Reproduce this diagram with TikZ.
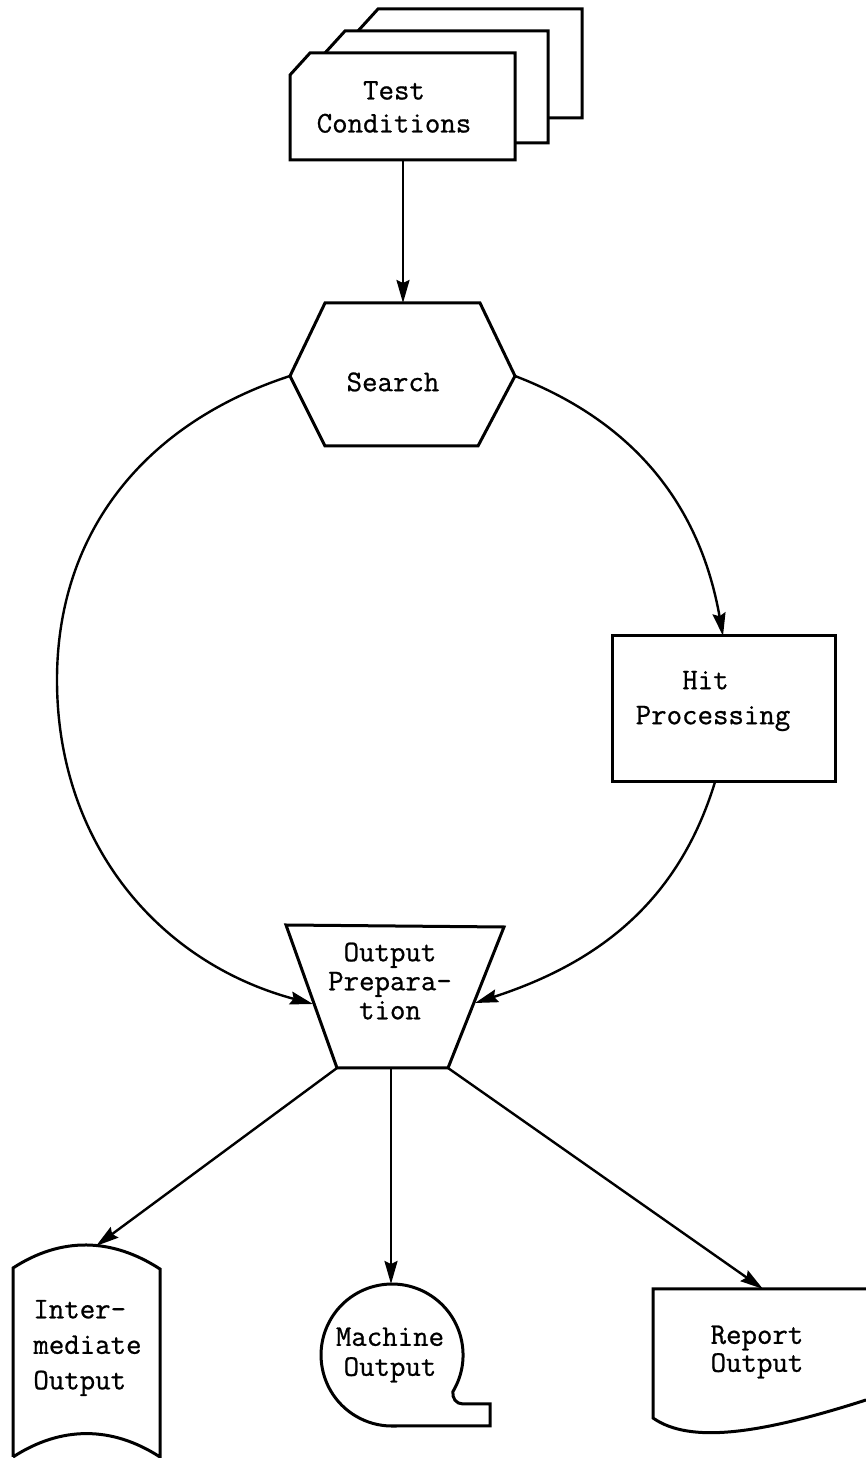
\documentclass[tikz,border=0pt]{standalone}
\usepackage{fontspec}
\newfontfamily\twfont{Latin Modern Mono}[FakeBold=0.8]
\usetikzlibrary{arrows.meta}
\newcommand\myfs[1]{\twfont\fontsize{15}{#1}\selectfont\lineskiplimit=-8pt\relax}
\begin{document}
\begin{tikzpicture}[x=0.5pt,y=0.5pt,
  shp/.style={line width=1.5pt, line join=miter},
  arr/.style={line width=1.2pt, -{Stealth[length=11.5pt,width=6.5pt,inset=1.5pt]}},
  lbl/.style={inner sep=0pt, align=center}]
\useasboundingbox (0,0) rectangle (866,1458);
% ---- Test conditions (stacked cards)
\draw[shp, fill=white] (358,1340) -- (358,1427) -- (378,1449) -- (582,1449) -- (582,1340) -- cycle;
\draw[shp, fill=white] (325,1315) -- (325,1405) -- (345,1427) -- (548,1427) -- (548,1315) -- cycle;
\draw[shp, fill=white] (290,1298) -- (290,1383) -- (310,1405) -- (515,1405) -- (515,1298) -- cycle;
\node[lbl, font=\myfs{16.5}] (tc) at (394,1351) {Test\\Conditions};
% ---- Search hexagon
\draw[shp] (325,1155) -- (480,1155) -- (515,1082) -- (478,1012) -- (325,1012) -- (290,1082) -- cycle;
\node[lbl, font=\myfs{18}] (sr) at (393,1076) {Search};
% ---- Hit processing
\draw[shp] (612,676) rectangle (835,822);
\node[lbl, font=\myfs{17.5}] (hp) at (713,757) {Hit\hspace*{0.5em}\\Processing};
% ---- Output preparation
\draw[shp] (286,533) -- (504,531) -- (448,390) -- (337,390) -- cycle;
\node[lbl, font=\myfs{14.5}] (pp) at (390,477) {Output\\Prepara-\\tion};
% ---- Intermediate output
\draw[shp] (13,1) -- (13,190) to[out=33,in=147] (160,189) -- (160,1) to[out=147,in=33] (13,1);
\node[inner sep=0pt, align=left, anchor=west, font=\myfs{17.75}] (io) at (33,110) {Inter-\\mediate\\Output};
% ---- Machine output
\draw[shp] (392,32) -- (490,32) -- (490,54) -- (463,54) .. controls (456,54) and (452,60) .. (452.9,66.4)
   arc[start angle=-31,end angle=270,radius=71] -- cycle;
\node[lbl, font=\myfs{15}] (mo) at (390,103) {Machine\\Output};
% ---- Report output
\draw[shp] (866,169) -- (653,169) -- (653,40) .. controls (690,14) and (760,24) .. (866,58);
\node[lbl, font=\myfs{14}] (ro) at (757,106) {Report\\Output};
% ---- connector end points
\coordinate (tcB) at (403,1298);
\coordinate (srT) at (403,1155);
\coordinate (srW) at (290,1082);
\coordinate (srE) at (515,1082);
\coordinate (lm) at (57,778);
\coordinate (hpT) at (723,822);
\coordinate (hpB) at (715,676);
\coordinate (ppL) at (313,454);
\coordinate (ppR) at (475,455);
\coordinate (ppBL) at (337,390);
\coordinate (ppBM) at (391,390);
\coordinate (ppBR) at (448,390);
\coordinate (ioT) at (96,212);
\coordinate (moT) at (391,174);
\coordinate (roT) at (763,169);
% ---- connectors
\draw[arr] (tcB) -- (srT);
\draw[arr] (srW) to[out=198,in=90] (lm) to[out=270,in=165] (ppL);
\draw[arr] (srE) to[out=-21,in=100] (hpT);
\draw[arr] (hpB) to[out=253,in=18] (ppR);
\draw[arr] (ppBL) -- (ioT);
\draw[arr] (ppBM) -- (moT);
\draw[arr] (ppBR) -- (roT);
\end{tikzpicture}
\end{document}
